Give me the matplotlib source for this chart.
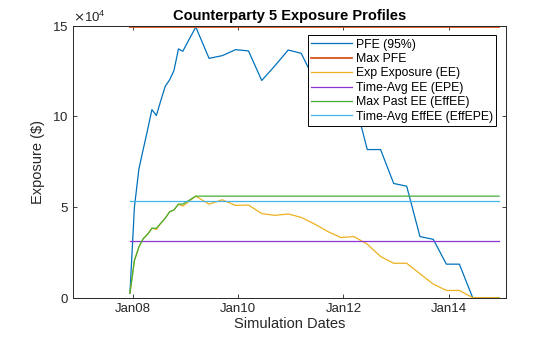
import datetime as dt
import matplotlib
matplotlib.use("Agg")
import matplotlib.pyplot as plt
import matplotlib.dates as mdates

plt.rcParams['font.family'] = ['Liberation Sans', 'DejaVu Sans']

# simulation dates: monthly for the first year, then quarterly
sim_dates = [
    "2007-12-14", "2008-01-14", "2008-02-14", "2008-03-14", "2008-04-14",
    "2008-05-14", "2008-06-14", "2008-07-14", "2008-08-14", "2008-09-14",
    "2008-10-14", "2008-11-14", "2008-12-14",
    "2009-03-14", "2009-06-14", "2009-09-14", "2009-12-14",
    "2010-03-14", "2010-06-14", "2010-09-14", "2010-12-14",
    "2011-03-14", "2011-06-14", "2011-09-14", "2011-12-14",
    "2012-03-14", "2012-06-14", "2012-09-14", "2012-12-14",
    "2013-03-14", "2013-06-14", "2013-09-14", "2013-12-14",
    "2014-03-14", "2014-06-14", "2014-09-14", "2014-12-14",
]

pfe = [2500, 50000, 71000, 81500, 92500, 103700, 100500, 108500, 116500,
       120200, 125300, 137200, 135900,
       149300, 132000, 133500, 136800,
       136100, 119800, 128000, 136600,
       134800, 120000, 117000, 113500,
       110000, 81700, 81700, 63000,
       61500, 33700, 32200, 18500,
       18500, 0, 0, 0]

ee = [2500, 20500, 28000, 32400, 35000, 38300, 37600, 41000, 43800,
      47400, 48400, 51600, 50500,
      56000, 51600, 54000, 50900,
      51100, 46400, 45400, 46200,
      44300, 40700, 36500, 33200,
      33700, 29500, 22700, 19000,
      19000, 13200, 7500, 4000,
      4000, 0, 0, 0]

eff_ee = [2500, 20500, 28000, 32400, 35000, 38300, 38300, 41000, 43800,
          47400, 48400, 51600, 51600,
          56000, 56000, 56000, 56000,
          56000, 56000, 56000, 56000,
          56000, 56000, 56000, 56000,
          56000, 56000, 56000, 56000,
          56000, 56000, 56000, 56000,
          56000, 56000, 56000, 56000]

max_pfe = 149300
epe = 31300
eff_epe = 53200

labels = ['PFE (95%)', 'Max PFE', 'Exp Exposure (EE)', 'Time-Avg EE (EPE)',
          'Max Past EE (EffEE)', 'Time-Avg EffEE (EffEPE)']
colors = ['#0072BD', '#D95319', '#EDB120', '#8A35D2', '#45AE35', '#45B4E8']


def main():
    dates = [dt.datetime.strptime(d, "%Y-%m-%d") for d in sim_dates]
    ends = [dates[0], dates[-1]]

    fig = plt.figure(figsize=(5.6, 3.37), dpi=100)
    ax = fig.add_axes([0.131, 0.1166, 0.7726, 0.8071])

    lw = 0.9
    ax.plot(dates, pfe, color=colors[0], lw=lw, label=labels[0])
    ax.plot(ends, [max_pfe, max_pfe], color=colors[1], lw=lw + 0.4, label=labels[1])
    ax.plot(dates, ee, color=colors[2], lw=lw, label=labels[2])
    ax.plot(ends, [epe, epe], color=colors[3], lw=lw, label=labels[3])
    ax.plot(dates, eff_ee, color=colors[4], lw=lw, label=labels[4])
    ax.plot(ends, [eff_epe, eff_epe], color=colors[5], lw=lw, label=labels[5])

    ax.set_xlim(dt.datetime(2006, 11, 17), dt.datetime(2015, 1, 31))
    ax.set_ylim(0, 150000)
    ax.set_xticks([dt.datetime(y, 1, 1) for y in (2008, 2010, 2012, 2014)])
    ax.xaxis.set_major_formatter(mdates.DateFormatter('%b%y'))
    ax.set_yticks([0, 50000, 100000, 150000])
    ax.ticklabel_format(axis='y', style='sci', scilimits=(4, 4), useMathText=True)
    ax.yaxis.get_offset_text().set_fontsize(9.5)

    ax.tick_params(direction='in', length=2.8, width=0.6, labelsize=9.5,
                   top=True, right=True, colors='#262626', labelcolor='#262626')
    for s in ax.spines.values():
        s.set_linewidth(0.7)
        s.set_color('#262626')

    ax.set_title('Counterparty 5 Exposure Profiles', fontsize=10.5,
                 fontweight='bold', pad=4)
    ax.set_xlabel('Simulation Dates', fontsize=10.5, labelpad=2, color='#262626')
    ax.set_ylabel(r'Exposure (\$)', fontsize=10.5, labelpad=5, color='#262626')

    leg = ax.legend(loc='upper right', fontsize=8.8, handlelength=3.3,
                    handletextpad=0.35, labelspacing=0.2, borderpad=0.25,
                    borderaxespad=0.8, fancybox=False, framealpha=1,
                    edgecolor='black')
    leg.get_frame().set_linewidth(0.7)

    fig.savefig('out.png', dpi=100)


if __name__ == "__main__":
    main()
